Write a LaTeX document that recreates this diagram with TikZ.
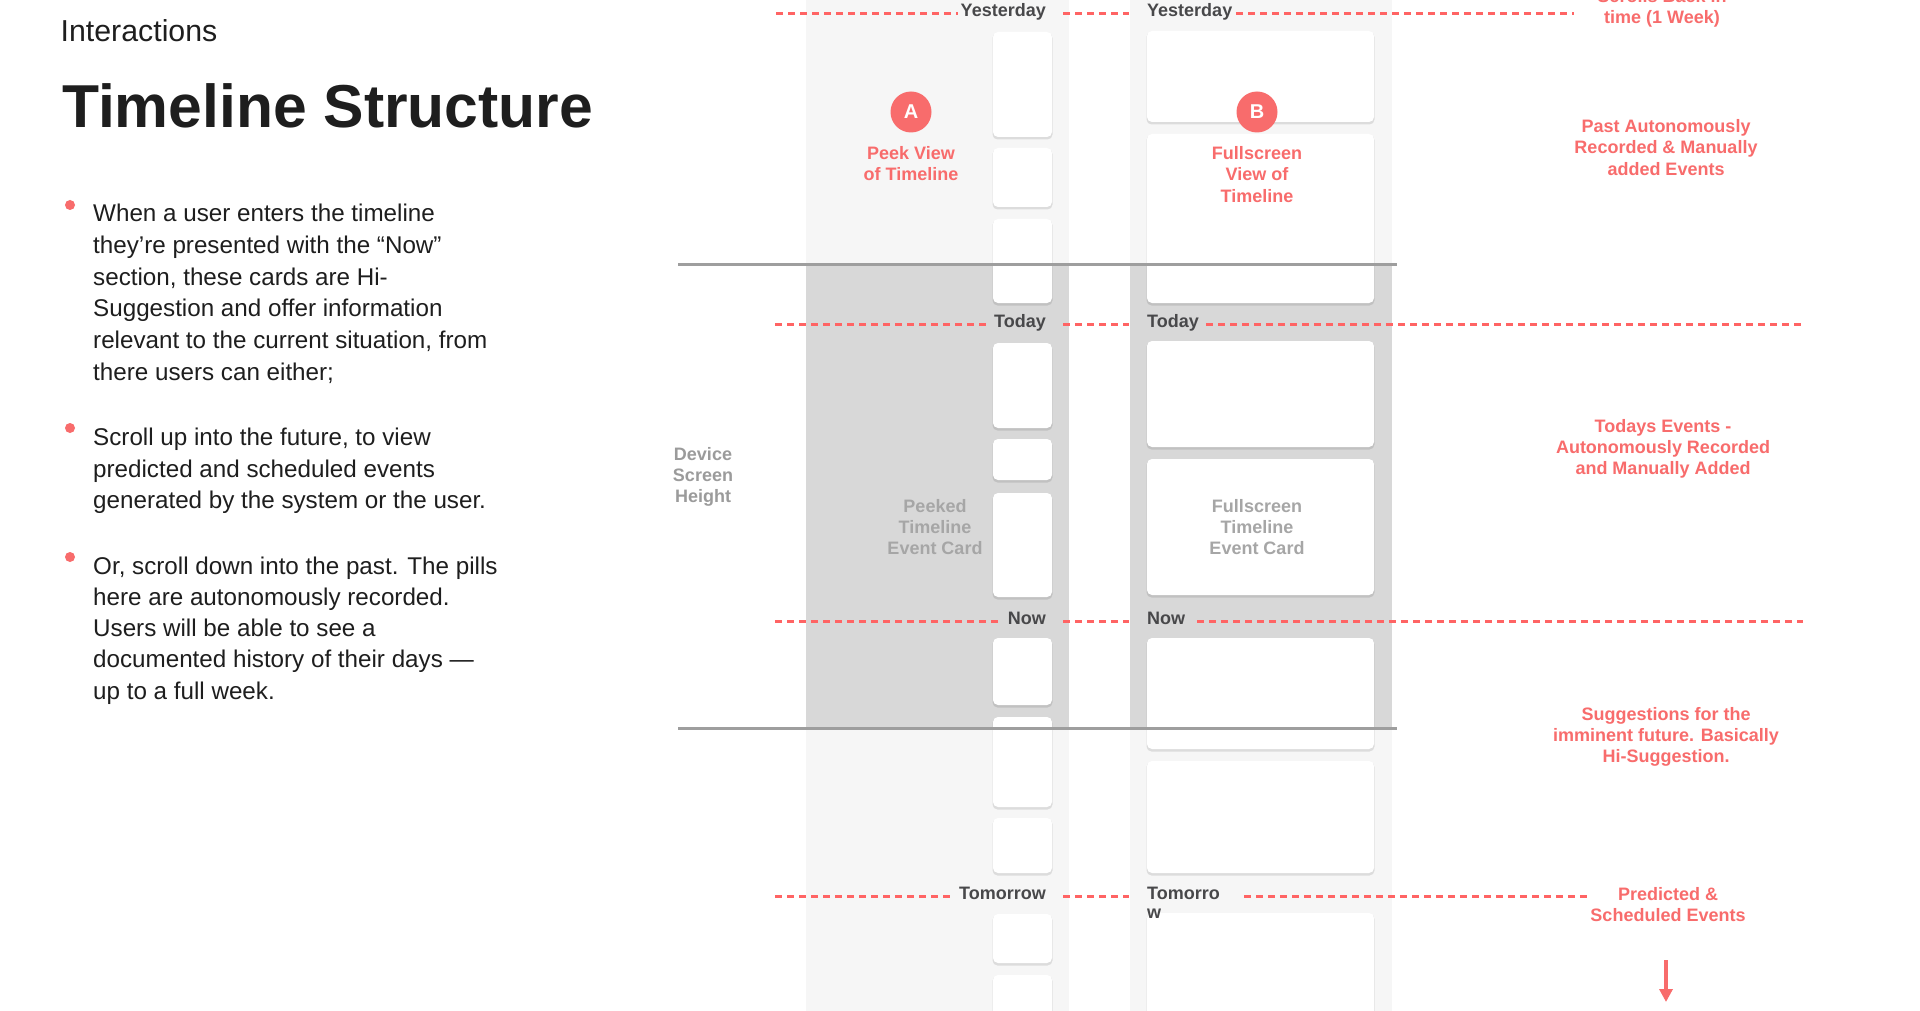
\documentclass[tikz,border=0pt]{standalone}
\usepackage{fontspec}
\setmainfont{Liberation Sans}
\usetikzlibrary{arrows.meta}
\definecolor{redc}{HTML}{F86C6C}
\definecolor{dashc}{HTML}{FF6464}
\definecolor{lblc}{HTML}{48484A}
\definecolor{colbg}{HTML}{F6F6F6}
\definecolor{bandc}{HTML}{D8D8D8}
\definecolor{glinec}{HTML}{9E9E9E}
\definecolor{bodyc}{HTML}{1E1E1E}
\definecolor{greyc}{HTML}{9B9B9B}
\definecolor{greyd}{HTML}{A6A6A6}
\newcommand{\crd}[4]{%
  \fill[black,opacity=0.10,rounded corners=5pt] (#1-0.5,#2+1) rectangle (#3+0.5,#4+2.5);
  \fill[white,rounded corners=5pt] (#1,#2) rectangle (#3,#4);}
\begin{document}
\begin{tikzpicture}[x=1pt,y=-1pt,
  dashln/.style={draw=dashc,line width=3pt,dash pattern=on 6.5pt off 5.5pt},
  grayln/.style={draw=glinec,line width=3pt},
  daylbl/.style={font=\fontsize{18}{19}\selectfont\bfseries,text=lblc,inner sep=0pt},
  annot/.style={font=\fontsize{18}{21.3}\selectfont\bfseries,text=redc,align=center,inner sep=0pt},
  grnote/.style={font=\fontsize{18}{21.3}\selectfont\bfseries,align=center,inner sep=0pt},
  bodyln/.style={font=\fontsize{24.2}{31.7}\selectfont,text=bodyc,inner sep=0pt,anchor=base west},
  bdot/.style={circle,fill=redc,minimum size=10pt,inner sep=0pt},
  badge/.style={circle,fill=redc,minimum size=41pt,inner sep=0pt,text=white,font=\fontsize{20}{20}\selectfont\bfseries},
]
\useasboundingbox (0,0) rectangle (1920,1011);
\clip (0,0) rectangle (1920,1011);
\fill[white] (0,0) rectangle (1920,1011);

% columns
\fill[colbg] (806,0) rectangle (1069,1011);
\fill[colbg] (1130,0) rectangle (1392,1011);
\fill[bandc] (806,263) rectangle (1069,728);
\fill[bandc] (1130,263) rectangle (1392,728);

% left (peek) cards
\crd{993}{32}{1052}{137}
\crd{993}{148}{1052}{207}
\crd{993}{219}{1052}{303}
\crd{993}{343}{1052}{428}
\crd{993}{439}{1052}{480}
\crd{993}{493}{1052}{597}
\crd{993}{638}{1052}{705}
\crd{993}{717}{1052}{807}
\crd{993}{818}{1052}{873}
\crd{993}{914}{1052}{963}
\crd{993}{975}{1052}{1040}

% right (fullscreen) cards
\crd{1147}{31}{1374}{122}
\crd{1147}{134}{1374}{303}
\crd{1147}{341}{1374}{447}
\crd{1147}{459}{1374}{595}
\crd{1147}{638}{1374}{749}
\crd{1147}{761}{1374}{873}
\crd{1147}{913}{1374}{1040}

% device screen height lines
\coordinate (g1a) at (678,265);
\coordinate (g1b) at (1397,265);
\coordinate (g2a) at (678,728);
\coordinate (g2b) at (1397,728);
\draw[grayln] (g1a) -- (g1b);
\draw[grayln] (g2a) -- (g2b);

% day labels
\node[daylbl,anchor=base east] (yl) at (1046,17) {Yesterday};
\node[daylbl,anchor=base west] (yr) at (1147,17) {Yesterday};
\node[daylbl,anchor=base east] (tl) at (1046,327.5) {Today};
\node[daylbl,anchor=base west] (tr) at (1147,327.5) {Today};
\node[daylbl,anchor=base east] (nl) at (1046,624) {Now};
\node[daylbl,anchor=base west] (nr) at (1147,624) {Now};
\node[daylbl,anchor=base east] (ml) at (1046,899) {Tomorrow};
\node[daylbl,anchor=base west] (mr) at (1147,899) {Tomorro};
\node[daylbl,anchor=base west] (mr2) at (1147,918) {w};

% dashed guide lines
\coordinate (y1) at (776,14);   \coordinate (y2) at (958,14);
\coordinate (y3) at (1063,14);  \coordinate (y4) at (1129,14);
\coordinate (y5) at (1236,14);  \coordinate (y6) at (1574,14);
\draw[dashln] (y1) -- (y2);
\draw[dashln] (y3) -- (y4);
\draw[dashln] (y5) -- (y6);
\coordinate (t1) at (775,324);  \coordinate (t2) at (987,324);
\coordinate (t3) at (1063,324); \coordinate (t4) at (1129,324);
\coordinate (t5) at (1206,324); \coordinate (t6) at (1802,324);
\draw[dashln] (t1) -- (t2);
\draw[dashln] (t3) -- (t4);
\draw[dashln] (t5) -- (t6);
\coordinate (n1) at (775,621);  \coordinate (n2) at (999,621);
\coordinate (n3) at (1063,621); \coordinate (n4) at (1129,621);
\coordinate (n5) at (1197,621); \coordinate (n6) at (1803,621);
\draw[dashln] (n1) -- (n2);
\draw[dashln] (n3) -- (n4);
\draw[dashln] (n5) -- (n6);
\coordinate (m1) at (775,896);  \coordinate (m2) at (951,896);
\coordinate (m3) at (1063,896); \coordinate (m4) at (1129,896);
\coordinate (m5) at (1244,896); \coordinate (m6) at (1587,896);
\draw[dashln] (m1) -- (m2);
\draw[dashln] (m3) -- (m4);
\draw[dashln] (m5) -- (m6);

% badges and view titles
\node[badge] (ba) at (911,112) {A};
\node[badge] (bb) at (1257,112) {B};
\node[annot] (peek) at (911,163.5) {Peek View\\of Timeline};
\node[annot] (full) at (1257,174.5) {Fullscreen\\View of\\Timeline};

% grey notes
\node[grnote,text=greyc] (dev) at (703,477) {Device\\Screen\\Height};
\node[grnote,text=greyd] (pcard) at (935,527) {Peeked\\Timeline\\Event Card};
\node[grnote,text=greyd] (fcard) at (1257,527) {Fullscreen\\Timeline\\Event Card};

% right annotations
\node[annot] (scr) at (1662,8.5) {Scrolls Back in\\time (1 Week)};
\node[annot] (past) at (1666,147.5) {Past Autonomously\\Recorded \& Manually\\added Events};
\node[annot] (tod) at (1663,449) {Todays Events -\\Autonomously Recorded\\and Manually Added};
\node[annot] (sug) at (1666,737) {Suggestions for the\\imminent future. Basically\\Hi-Suggestion.};
\node[annot] (pred) at (1668,904.5) {Predicted \&\\Scheduled Events};
\coordinate (ar1) at (1666,960);
\coordinate (ar2) at (1666,1002);
\draw[draw=redc,line width=4pt,-{Triangle[width=13pt,length=13pt]}] (ar1) -- (ar2);

% left text
\node[inner sep=0pt,anchor=base west,font=\fontsize{30.3}{31}\selectfont,text=bodyc] (intr) at (60.5,42) {Interactions};
\node[inner sep=0pt,anchor=base west,font=\fontsize{60.6}{61}\selectfont\bfseries,text=bodyc] (ttl) at (62,128) {Timeline Structure};

\node[bdot] (d1) at (70,205) {};
\node[bdot] (d2) at (70,428) {};
\node[bdot] (d3) at (70,557) {};

\node[bodyln] (a1) at (93,222) {When a user enters the timeline};
\node[bodyln] (a2) at (93,253.5) {they’re presented with the “Now”};
\node[bodyln] (a3) at (93,285) {section, these cards are Hi-};
\node[bodyln] (a4) at (93,316.5) {Suggestion and offer information};
\node[bodyln] (a5) at (93,348) {relevant to the current situation, from};
\node[bodyln] (a6) at (93,380) {there users can either;};

\node[bodyln] (c1) at (93,445) {Scroll up into the future, to view};
\node[bodyln] (c2) at (93,477) {predicted and scheduled events};
\node[bodyln] (c3) at (93,508) {generated by the system or the user.};

\node[bodyln] (e1) at (93,574) {Or, scroll down into the past. The pills};
\node[bodyln] (e2) at (93,605) {here are autonomously recorded.};
\node[bodyln] (e3) at (93,636) {Users will be able to see a};
\node[bodyln] (e4) at (93,667.5) {documented history of their days —};
\node[bodyln] (e5) at (93,699) {up to a full week.};
\end{tikzpicture}
\end{document}
